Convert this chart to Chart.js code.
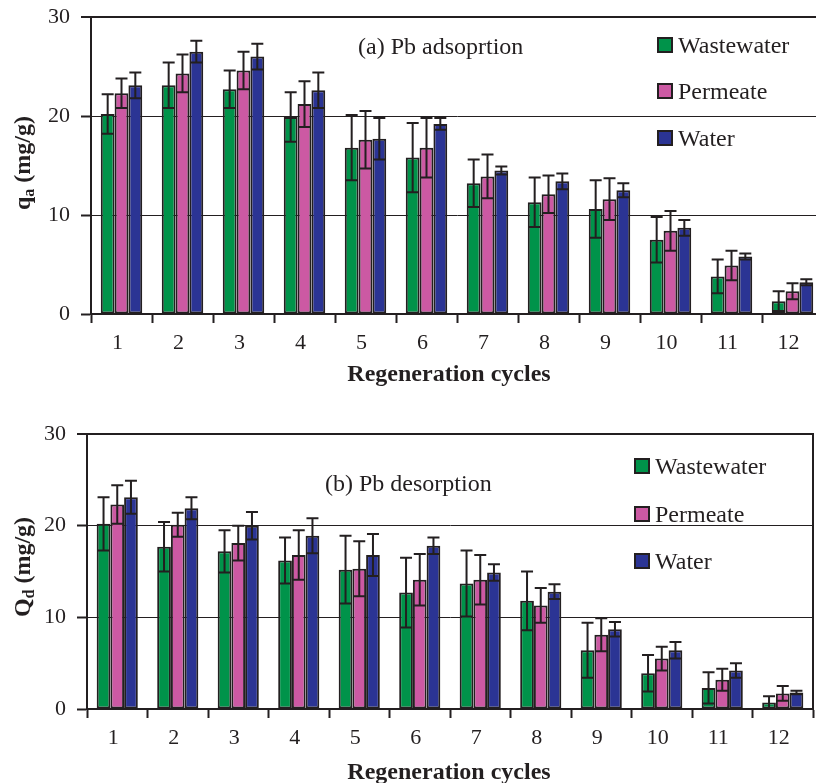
<!DOCTYPE html>
<html>
<head>
<meta charset="utf-8">
<script src="https://cdn.jsdelivr.net/npm/chart.js@4/dist/chart.umd.min.js"></script>
<style>
  html, body { margin: 0; padding: 0; background: #fff; overflow: hidden; }
  body { width: 816px; height: 783px; position: relative; font-family: "Liberation Serif", "Times New Roman", serif; color: #231f20; }
  canvas { position: absolute; left: 0; }
  #chartA { top: 0; }
  #chartB { top: 400px; }
  .txt { position: absolute; white-space: nowrap; line-height: 1; transform: translateY(-50%); }
  .ttl { font-weight: bold; font-size: 24px; transform: translate(-50%, -50%); }
  .ytl { transform: translate(-50%, -50%) rotate(-90deg); }
  .ytl sub { font-size: 16px; vertical-align: -4px; }
  .lbl { font-size: 24px; }
  .sw { position: absolute; width: 12px; height: 12px; border: 2px solid #231f20; }
</style>
</head>
<body>
<canvas id="chartA" width="830" height="392"></canvas>
<canvas id="chartB" width="816" height="383"></canvas>

<div class="txt ttl ytl" style="left:23px; top:163px;">q<sub>a</sub> (mg/g)</div>
<div class="txt ttl" style="left:449px; top:373px;">Regeneration cycles</div>
<div class="txt lbl" style="left:358px; top:46px;">(a) Pb adsoprtion</div>

<div class="txt ttl ytl" style="left:23px; top:567px;">Q<sub>d</sub> (mg/g)</div>
<div class="txt ttl" style="left:449px; top:771px;">Regeneration cycles</div>
<div class="txt lbl" style="left:325px; top:483px;">(b) Pb desorption</div>

<div id="legendA"></div>
<div id="legendB"></div>

<script>
const cycles = ['1', '2', '3', '4', '5', '6', '7', '8', '9', '10', '11', '12'];
const seriesNames = ['Wastewater', 'Permeate', 'Water'];
const seriesColors = ['#00934a', '#cc59a3', '#2b3494'];
const yTicks = [0, 10, 20, 30];

// (a) Pb adsorption, q_a (mg/g)
const adsWastewater = [20.2, 23.1, 22.7, 19.9, 16.8, 15.8, 13.2, 11.3, 10.6, 7.5, 3.8, 1.3];
const adsWastewaterErr = [2.0, 2.3, 1.9, 2.5, 3.3, 3.5, 2.4, 2.5, 2.9, 2.3, 1.7, 1.0];
const adsPermeate = [22.3, 24.3, 24.6, 21.2, 17.6, 16.8, 13.9, 12.1, 11.6, 8.4, 4.9, 2.3];
const adsPermeateErr = [1.5, 1.9, 1.9, 2.3, 2.9, 3.0, 2.2, 1.9, 2.1, 2.0, 1.5, 0.8];
const adsWater = [23.1, 26.5, 26.0, 22.6, 17.7, 19.2, 14.5, 13.4, 12.5, 8.7, 5.8, 3.2];
const adsWaterErr = [1.3, 1.1, 1.3, 1.8, 2.1, 0.6, 0.4, 0.8, 0.7, 0.8, 0.3, 0.3];

// (b) Pb desorption, Q_d (mg/g)
const desWastewater = [20.2, 17.7, 17.2, 16.2, 15.2, 12.7, 13.7, 11.8, 6.4, 3.9, 2.3, 0.7];
const desWastewaterErr = [2.9, 2.7, 2.3, 2.5, 3.7, 3.8, 3.6, 3.2, 3.0, 2.0, 1.7, 0.7];
const desPermeate = [22.3, 20.1, 18.1, 16.8, 15.3, 14.1, 14.1, 11.3, 8.1, 5.5, 3.2, 1.7];
const desPermeateErr = [2.1, 1.3, 1.9, 2.7, 3.0, 2.8, 2.7, 1.9, 1.8, 1.3, 1.2, 0.8];
const desWater = [23.1, 21.9, 20.0, 18.9, 16.8, 17.8, 14.9, 12.8, 8.7, 6.4, 4.2, 1.8];
const desWaterErr = [1.8, 1.2, 1.5, 1.9, 2.3, 0.9, 0.9, 0.8, 0.8, 0.9, 0.8, 0.2];

const ink = '#231f20';

// error bars (both caps) + right frame line
const errorBars = {
  id: 'errorBars',
  afterDatasetsDraw(chart) {
    const ctx = chart.ctx;
    const y = chart.scales.y;
    ctx.save();
    ctx.strokeStyle = ink;
    ctx.lineWidth = 2;
    chart.data.datasets.forEach((ds, i) => {
      chart.getDatasetMeta(i).data.forEach((bar, j) => {
        const v = ds.data[j];
        const e = ds.errors[j];
        const top = y.getPixelForValue(v + e);
        const bot = y.getPixelForValue(Math.max(v - e, 0));
        ctx.beginPath();
        ctx.moveTo(bar.x, bot);
        ctx.lineTo(bar.x, top);
        ctx.moveTo(bar.x - 6, top);
        ctx.lineTo(bar.x + 6, top);
        ctx.moveTo(bar.x - 6, bot);
        ctx.lineTo(bar.x + 6, bot);
        ctx.stroke();
      });
    });
    const a = chart.chartArea;
    ctx.beginPath();
    ctx.moveTo(a.right, a.top - 1);
    ctx.lineTo(a.right, a.bottom + 1);
    ctx.stroke();
    ctx.restore();
  }
};

function makeChart(id, series, errors, pad, xHeight) {
  new Chart(document.getElementById(id), {
    type: 'bar',
    data: {
      labels: cycles,
      datasets: series.map((s, i) => ({
        label: seriesNames[i],
        data: s,
        errors: errors[i],
        backgroundColor: seriesColors[i],
        borderColor: ink,
        borderWidth: 2,
        borderSkipped: false,
        categoryPercentage: 0.68,
        barPercentage: 1.0
      }))
    },
    options: {
      responsive: false,
      animation: false,
      layout: { padding: pad },
      plugins: { legend: { display: false }, tooltip: { enabled: false } },
      scales: {
        x: {
          offset: true,
          grid: { offset: true, drawOnChartArea: false, tickLength: 9, tickWidth: 2, color: ink },
          border: { width: 2, color: ink },
          ticks: { color: ink, padding: 7, labelOffset: -4, maxRotation: 0, font: { family: 'Liberation Serif', size: 22 } },
          afterFit(scale) {
            scale.height = xHeight;
            scale.paddingLeft = 0;
            scale.paddingRight = 0;
          }
        },
        y: {
          min: 0,
          max: 30,
          afterBuildTicks(scale) { scale.ticks = yTicks.map(v => ({ value: v })); },
          grid: {
            color: ink,
            tickLength: 10,
            tickWidth: 2,
            lineWidth: c => (c.tick && c.tick.value === 30 ? 2 : 1)
          },
          border: { width: 2, color: ink },
          ticks: { color: ink, padding: 11, font: { family: 'Liberation Serif', size: 22 } },
          afterFit(scale) {
            scale.width = 60;
            scale.paddingTop = 0;
            scale.paddingBottom = 0;
          }
        }
      }
    },
    plugins: [errorBars]
  });
}

function makeLegend(id, left, tops) {
  const box = document.getElementById(id);
  seriesNames.forEach((name, i) => {
    const sw = document.createElement('div');
    sw.className = 'sw';
    sw.style.left = left + 'px';
    sw.style.top = tops[i] + 'px';
    sw.style.background = seriesColors[i];
    box.appendChild(sw);
    const t = document.createElement('div');
    t.className = 'txt lbl';
    t.style.left = (left + 21) + 'px';
    t.style.top = (tops[i] + 8) + 'px';
    t.textContent = name;
    box.appendChild(t);
  });
}

makeChart('chartA', [adsWastewater, adsPermeate, adsWater],
  [adsWastewaterErr, adsPermeateErr, adsWaterErr],
  { left: 31, right: 7, top: 17, bottom: 0 }, 78);
makeChart('chartB', [desWastewater, desPermeate, desWater],
  [desWastewaterErr, desPermeateErr, desWaterErr],
  { left: 27, right: 3, top: 34, bottom: 0 }, 74);

makeLegend('legendA', 657, [37, 83, 130]);
makeLegend('legendB', 634, [458, 506, 553]);
</script>
</body>
</html>
